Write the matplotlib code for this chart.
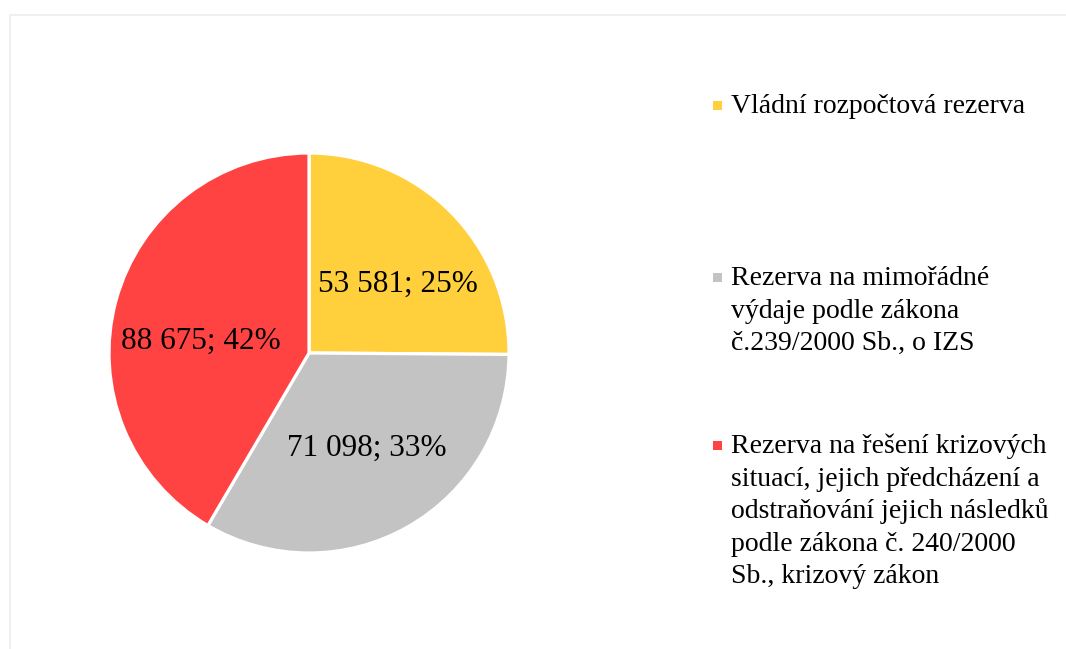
"""Pie of reserve funds split (Czech state budget reserves) with a hand-placed legend."""
import matplotlib.pyplot as plt
from matplotlib.lines import Line2D
from matplotlib.patches import Rectangle

CATEGORIES = [
    "Vládní rozpočtová rezerva",
    "Rezerva na mimořádné\nvýdaje podle zákona\nč.239/2000 Sb., o IZS",
    "Rezerva na řešení krizových\nsituací, jejich předcházení a\nodstraňování jejich následků\npodle zákona č. 240/2000\nSb., krizový zákon",
]
VALUES = [53581, 71098, 88675]
COLORS = ["#FFD03B", "#C3C3C3", "#FF4343"]

W, H = 1066, 649
plt.rcParams["font.family"] = ["Liberation Serif", "DejaVu Serif"]


def fx(px):
    return px / W


def fy(py):
    return 1 - py / H


def main() -> None:
    fig = plt.figure(figsize=(W / 100, H / 100), dpi=100)
    fig.patch.set_facecolor("white")

    # faint chart-area frame (only top and left edges visible in the crop)
    fig.add_artist(Line2D([fx(9.5), fx(9.5), fx(W)], [0, fy(14.5), fy(14.5)],
                          color="#ECECEC", lw=1.2))

    ax = fig.add_axes([fx(109), fy(553), 400 / W, 400 / H])
    total = sum(VALUES)
    labels = [f"{v:,}".replace(",", " ") + f"; {round(100 * v / total)}%" for v in VALUES]
    wedges, texts = ax.pie(
        VALUES, colors=COLORS, startangle=90, counterclock=False, radius=1,
        labels=labels, labeldistance=0.56,
        wedgeprops=dict(edgecolor="white", linewidth=2.3),
        textprops=dict(fontsize=22.5, color="black"),
    )
    # data labels sit where Excel put them (offsets in pie radii)
    label_offsets = [(0.445, 0.345), (0.29, -0.475), (-0.54, 0.06)]
    for t, pos in zip(texts, label_offsets):
        t.set_position(pos)
        t.set_horizontalalignment("center")
        t.set_verticalalignment("center")
    ax.set_xlim(-1, 1)
    ax.set_ylim(-1, 1)
    ax.axis("off")

    # legend: square marker next to first line of each wrapped entry
    first_baselines = [113, 285, 453]
    line_step = 32.6
    for label, color, base in zip(CATEGORIES, COLORS, first_baselines):
        fig.add_artist(Rectangle((fx(712.5), fy(base - 3)), 9.5 / W, 9.5 / H,
                                 facecolor=color, edgecolor="none"))
        for i, line in enumerate(label.split("\n")):
            fig.text(fx(731), fy(base + i * line_step), line, fontsize=20,
                     ha="left", va="baseline", color="black")

    fig.savefig("out.png", dpi=100)


if __name__ == "__main__":
    main()
